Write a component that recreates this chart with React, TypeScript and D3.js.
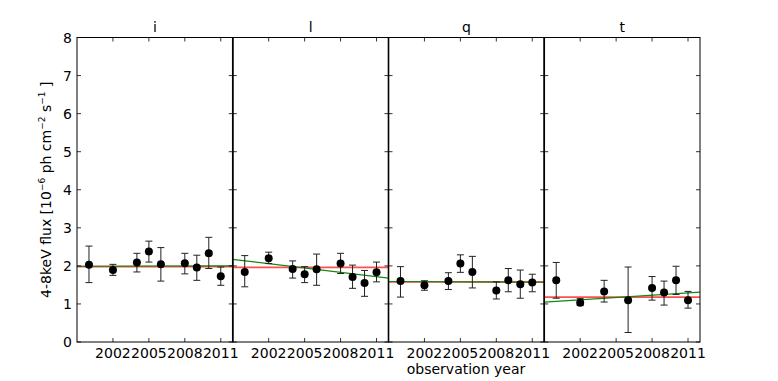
import React from "react";
import * as d3 from "d3";

const panelNames = ["i", "l", "q", "t"];
const xTickYears = [2002, 2005, 2008, 2011];
const yTickValues = [0, 1, 2, 3, 4, 5, 6, 7, 8];

const yearsI = [2000, 2002, 2004, 2005, 2006, 2008, 2009, 2010, 2011];
const fluxI = [2.03, 1.89, 2.09, 2.38, 2.04, 2.07, 1.96, 2.33, 1.73];
const loI = [1.56, 1.75, 1.84, 2.1, 1.6, 1.79, 1.62, 1.93, 1.49];
const hiI = [2.52, 2.04, 2.33, 2.65, 2.48, 2.33, 2.28, 2.75, 1.97];

const yearsL = [2000, 2002, 2004, 2005, 2006, 2008, 2009, 2010, 2011];
const fluxL = [1.84, 2.2, 1.92, 1.78, 1.91, 2.06, 1.71, 1.55, 1.83];
const loL = [1.45, 2.06, 1.68, 1.56, 1.49, 1.8, 1.41, 1.2, 1.58];
const hiL = [2.27, 2.36, 2.13, 1.98, 2.31, 2.33, 2.02, 1.88, 2.1];

const yearsQ = [2000, 2002, 2004, 2005, 2006, 2008, 2009, 2010, 2011];
const fluxQ = [1.6, 1.49, 1.6, 2.06, 1.84, 1.35, 1.62, 1.52, 1.56];
const loQ = [1.18, 1.36, 1.38, 1.83, 1.42, 1.13, 1.32, 1.15, 1.32];
const hiQ = [1.98, 1.61, 1.82, 2.29, 2.25, 1.58, 1.93, 1.89, 1.78];

const yearsT = [2000, 2002, 2004, 2006, 2008, 2009, 2010, 2011];
const fluxT = [1.62, 1.03, 1.33, 1.1, 1.42, 1.3, 1.62, 1.1];
const loT = [1.15, 0.96, 1.05, 0.25, 1.1, 0.97, 1.25, 0.89];
const hiT = [2.09, 1.14, 1.62, 1.97, 1.72, 1.6, 1.99, 1.33];

// constant fits (red) and linear fits (green: value at domain start / end)
const redLevels = [1.98, 1.96, 1.58, 1.18];
const greenStart = [1.99, 2.17, 1.59, 1.05];
const greenEnd = [2.0, 1.68, 1.57, 1.31];

const panelYears = [yearsI, yearsL, yearsQ, yearsT];
const panelFlux = [fluxI, fluxL, fluxQ, fluxT];
const panelLo = [loI, loL, loQ, loT];
const panelHi = [hiI, hiL, hiQ, hiT];

const W = 778;
const H = 381;
const left = 77;
const right = 700;
const top = 37.5;
const bottom = 342;
const pw = (right - left) / 4;
const font = "DejaVu Sans, sans-serif";

export default function App() {
  const y = d3.scaleLinear().domain([0, 8]).range([bottom, top]);
  return (
    <svg
      width={W}
      height={H}
      style={{ position: "absolute", left: 0, top: 0, background: "#fff" }}
      fontFamily={font}
    >
      <defs>
        {panelNames.map((_, p) => (
          <clipPath id={`clip${p}`} key={p}>
            <rect x={left + p * pw} y={top} width={pw} height={bottom - top} />
          </clipPath>
        ))}
      </defs>
      {panelNames.map((name, p) => {
        const x0 = left + p * pw;
        const x = d3.scaleLinear().domain([1999, 2012]).range([x0, x0 + pw]);
        const [d0, d1] = x.domain();
        const ys = panelYears[p];
        return (
          <g key={name}>
            <g clipPath={`url(#clip${p})`}>
              <line
                x1={x(d0)}
                x2={x(d1)}
                y1={y(redLevels[p])}
                y2={y(redLevels[p])}
                stroke="#ff3030"
                strokeOpacity={0.85}
                strokeWidth={1.6}
              />
              <line
                x1={x(d0)}
                x2={x(d1)}
                y1={y(greenStart[p])}
                y2={y(greenEnd[p])}
                stroke="#118811"
                strokeWidth={1.2}
              />
              {ys.map((yr, i) => (
                <g key={i} stroke="#222" strokeWidth={1}>
                  <line x1={x(yr)} x2={x(yr)} y1={y(panelLo[p][i])} y2={y(panelHi[p][i])} />
                  <line x1={x(yr) - 3.5} x2={x(yr) + 3.5} y1={y(panelLo[p][i])} y2={y(panelLo[p][i])} />
                  <line x1={x(yr) - 3.5} x2={x(yr) + 3.5} y1={y(panelHi[p][i])} y2={y(panelHi[p][i])} />
                </g>
              ))}
              {ys.map((yr, i) => (
                <circle key={i} cx={x(yr)} cy={y(panelFlux[p][i])} r={4} fill="#000" />
              ))}
            </g>
            {/* ticks */}
            {xTickYears.map((t) => (
              <g key={t} stroke="#000" strokeWidth={0.8}>
                <line x1={x(t)} x2={x(t)} y1={bottom} y2={bottom - 4} />
                <line x1={x(t)} x2={x(t)} y1={top} y2={top + 4} />
              </g>
            ))}
            {yTickValues.map((v) => (
              <g key={v} stroke="#000" strokeWidth={0.8}>
                <line x1={x0} x2={x0 + 4} y1={y(v)} y2={y(v)} />
                <line x1={x0 + pw} x2={x0 + pw - 4} y1={y(v)} y2={y(v)} />
              </g>
            ))}
            <rect
              x={x0}
              y={top}
              width={pw}
              height={bottom - top}
              fill="none"
              stroke="#000"
              strokeWidth={1}
            />
            {xTickYears.map((t) => (
              <text key={t} x={x(t)} y={358} fontSize={14} textAnchor="middle" fill="#000">
                {t}
              </text>
            ))}
            <text x={x0 + pw / 2} y={32} fontSize={14} textAnchor="middle" fill="#000">
              {name}
            </text>
          </g>
        );
      })}
      {/* separators drawn thicker */}
      {[1, 2, 3].map((k) => (
        <line
          key={k}
          x1={left + k * pw}
          x2={left + k * pw}
          y1={top}
          y2={bottom}
          stroke="#000"
          strokeWidth={1.6}
        />
      ))}
      {yTickValues.map((v) => (
        <text key={v} x={72} y={y(v) + 5} fontSize={14} textAnchor="end" fill="#000">
          {v}
        </text>
      ))}
      <text
        transform={`translate(51, ${(top + bottom) / 2}) rotate(-90)`}
        fontSize={14}
        textAnchor="middle"
        fill="#000"
      >
        4-8keV flux [10
        <tspan fontSize={9} dy={-6}>−6</tspan>
        <tspan dy={6}> ph cm</tspan>
        <tspan fontSize={9} dy={-6}>−2</tspan>
        <tspan dy={6}> s</tspan>
        <tspan fontSize={9} dy={-6}>−1</tspan>
        <tspan dy={6}> ]</tspan>
      </text>
      <text x={466} y={374} fontSize={14} textAnchor="middle" fill="#000">
        observation year
      </text>
    </svg>
  );
}
